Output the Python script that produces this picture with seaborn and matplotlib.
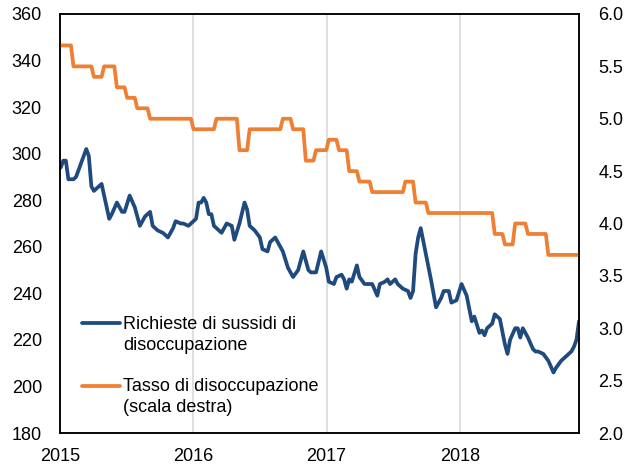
import numpy as np
import pandas as pd
import seaborn as sns
import matplotlib.pyplot as plt
import matplotlib.dates as mdates
from matplotlib.ticker import FormatStrFormatter, MultipleLocator

# weekly initial claims (thousands); week number counted from 2015-01-03
week_idx = [0, 1, 2, 3, 5, 6, 7, 9, 10, 11, 12, 13, 14, 16, 17, 19, 20, 22, 24, 25,
            27, 29, 31, 33, 35, 36, 38, 40, 42, 44, 45, 47, 48, 50,
            52, 53, 54, 55, 56, 57, 58, 59, 60, 62, 63, 65, 67, 68, 70, 72, 73, 74,
            76, 78, 79, 81, 82, 84, 85, 87, 89, 91, 93, 95, 97, 98, 100, 102,
            104, 105, 107, 108, 110, 111, 112, 113, 114, 116, 117, 119, 121, 122,
            124, 125, 127, 128, 129, 131, 132, 134, 136, 137, 138, 139, 140, 141,
            143, 145, 147, 149, 150, 152, 153, 155,
            157, 159, 161, 162, 164, 165, 166, 167, 169, 170, 172, 174, 175, 176,
            178, 179, 180, 181, 183, 185, 186, 187, 189, 191, 193, 194, 196, 197,
            198, 200, 201, 202, 203]
claims = [294, 297, 297, 289, 289, 290, 293, 299, 302, 299, 286, 284, 285, 287, 282, 272, 274, 279, 275, 275,
          282, 277, 269, 273, 275, 269, 267, 266, 264, 268, 271, 270, 270, 269,
          271, 272, 279, 279, 281, 279, 274, 274, 269, 267, 266, 270, 269, 263, 270, 279, 276, 269,
          267, 264, 259, 258, 262, 264, 262, 258, 251, 247, 250, 258, 250, 249, 249, 258,
          251, 245, 244, 247, 248, 246, 242, 246, 245, 252, 247, 244, 244, 244,
          239, 244, 245, 246, 244, 246, 244, 242, 241, 238, 241, 257, 264, 268,
          257, 246, 234, 238, 241, 241, 236, 237,
          244, 239, 228, 230, 223, 224, 222, 225, 227, 231, 229, 218, 214, 220,
          225, 225, 221, 225, 221, 216, 215, 215, 214, 211, 206, 208, 211, 212,
          213, 215, 217, 220, 228]

# monthly unemployment rate (%)
rate_2015 = [5.7, 5.5, 5.5, 5.4, 5.5, 5.3, 5.2, 5.1, 5.0, 5.0, 5.0, 5.0]
rate_2016 = [4.9, 4.9, 5.0, 5.0, 4.7, 4.9, 4.9, 4.9, 5.0, 4.9, 4.6, 4.7]
rate_2017 = [4.8, 4.7, 4.5, 4.4, 4.3, 4.3, 4.3, 4.4, 4.2, 4.1, 4.1, 4.1]
rate_2018 = [4.1, 4.1, 4.1, 3.9, 3.8, 4.0, 3.9, 3.9, 3.7, 3.7, 3.7]

label_claims = 'Richieste di sussidi di\ndisoccupazione'
label_rate = 'Tasso di disoccupazione\n(scala destra)'
years = [2015, 2016, 2017, 2018]

blue = '#1f4a7e'
orange = '#ee7f33'

start = pd.Timestamp('2015-01-03')
claims_df = pd.DataFrame({
    'date': start + pd.to_timedelta(np.array(week_idx) * 7, unit='D'),
    'claims': claims,
})

weekly = pd.date_range(start, periods=week_idx[-1] + 1, freq='7D')
rate = rate_2015 + rate_2016 + rate_2017 + rate_2018
monthly = pd.Series(rate, index=pd.date_range('2015-01-01', periods=len(rate), freq='MS'))
rate_df = monthly.reindex(weekly, method='ffill').rename('rate').rename_axis('date').reset_index()

sns.set_style('white')
plt.rcParams['font.family'] = ['Liberation Sans', 'DejaVu Sans']
plt.rcParams['font.size'] = 13

fig = plt.figure(figsize=(6.33, 4.65), dpi=100)
ax = fig.add_axes([60 / 633, 1 - 433 / 465, 519 / 633, 419 / 465])
ax2 = ax.twinx()

sns.lineplot(data=claims_df, x='date', y='claims', ax=ax, color=blue, lw=2.7, label=label_claims)
sns.lineplot(data=rate_df, x='date', y='rate', ax=ax2, color=orange, lw=2.7, label=label_rate)

ax.set_ylim(180, 360)
ax.yaxis.set_major_locator(MultipleLocator(20))
ax2.set_ylim(2.0, 6.0)
ax2.yaxis.set_major_locator(MultipleLocator(0.5))
ax2.yaxis.set_major_formatter(FormatStrFormatter('%.1f'))

ax.set_xlim(pd.Timestamp('2015-01-01'), weekly[-1])
ax.set_xticks([pd.Timestamp(f'{y}-01-01') for y in years])
ax.xaxis.set_major_formatter(mdates.DateFormatter('%Y'))
ax.grid(False)
ax2.grid(False)
ax.xaxis.grid(True, color='#d9d9d9', lw=1.2)
ax.set_axisbelow(True)

for a in (ax, ax2):
    a.set_xlabel('')
    a.set_ylabel('')
    a.tick_params(length=0, labelsize=13, colors='black')
    for s in a.spines.values():
        s.set_color('black')
        s.set_linewidth(1.1)
ax.tick_params(axis='y', pad=13)
ax.tick_params(axis='x', pad=11)
ax2.tick_params(axis='y', pad=14)

h1, l1 = ax.get_legend_handles_labels()
h2, l2 = ax2.get_legend_handles_labels()
ax.get_legend().remove()
ax2.get_legend().remove()
leg = ax2.legend(h1 + h2, l1 + l2, loc='upper left', bbox_to_anchor=(0.042, 0.28),
                 frameon=False, fontsize=13, handlelength=2.1, handleheight=1.2,
                 handletextpad=0.2, labelspacing=1.35, borderpad=0, borderaxespad=0,
                 labelcolor='black')
for t in leg.get_texts():
    t.set_linespacing(1.3)
# put the line next to the first text row, as in the original
for col in leg._legend_handle_box.get_children():
    for item in col.get_children():
        item.align = 'top'

fig.savefig('out.png', dpi=100)
